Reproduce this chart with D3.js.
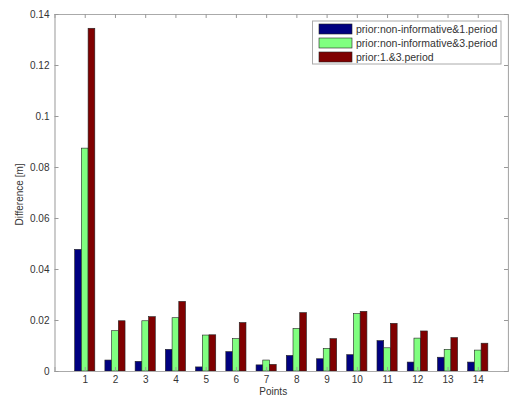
<!DOCTYPE html>
<html>
<head>
<meta charset="utf-8">
<script src="https://cdn.jsdelivr.net/npm/d3@7"></script>
<style>
  html, body { margin: 0; padding: 0; background: #fff; }
  svg { display: block; }
  text { font-family: "Liberation Sans", Arial, sans-serif; fill: #333; }
</style>
</head>
<body>
<svg id="chart" width="509" height="396"></svg>
<script>
// Point numbers along the x axis
const points = [1, 2, 3, 4, 5, 6, 7, 8, 9, 10, 11, 12, 13, 14];

// Differences [m] for each prior comparison
const nonInf1 = [0.0477, 0.0043, 0.0038, 0.0085, 0.0016, 0.0076, 0.0024, 0.0061, 0.0048, 0.0064, 0.0119, 0.0035, 0.0054, 0.0035];
const nonInf3 = [0.0874, 0.0158, 0.0197, 0.0209, 0.0141, 0.0127, 0.0043, 0.0167, 0.0089, 0.0225, 0.0091, 0.0129, 0.0085, 0.0082];
const p1and3  = [0.1344, 0.0197, 0.0213, 0.0273, 0.0142, 0.0190, 0.0026, 0.0229, 0.0127, 0.0234, 0.0187, 0.0157, 0.0131, 0.0109];

const seriesNames = ["prior:non-informative&1.period", "prior:non-informative&3.period", "prior:1.&3.period"];
const seriesColors = ["#000080", "#80ff80", "#800000"];
const series = [nonInf1, nonInf3, p1and3];

const yTicks = [0, 0.02, 0.04, 0.06, 0.08, 0.1, 0.12, 0.14];
const yTickLabels = ["0", "0.02", "0.04", "0.06", "0.08", "0.1", "0.12", "0.14"];

const svg = d3.select("#chart");
const plotL = 54.5, plotR = 508, plotT = 14, plotB = 371;

const x = d3.scaleLinear().domain([0, 15]).range([plotL, plotR]);
const y = d3.scaleLinear().domain([0, 0.14]).range([plotB, plotT]);

const step = x(1) - x(0);
const groupW = step * 3 / 4.5;
const barW = groupW / 3;

// Bars
series.forEach((vals, si) => {
  svg.append("g").selectAll("rect")
    .data(vals)
    .join("rect")
    .attr("x", (d, i) => x(points[i]) - groupW / 2 + si * barW)
    .attr("y", d => y(d))
    .attr("width", barW)
    .attr("height", d => y(0) - y(d))
    .attr("fill", seriesColors[si])
    .attr("stroke", "#222")
    .attr("stroke-width", 0.6);
});

// Axes box (ticks point inward)
const axisColor = "#aaa";
const gx = svg.append("g").attr("transform", `translate(0,${plotB})`)
  .call(d3.axisBottom(x).tickValues(points).tickSize(-4).tickPadding(5).tickFormat(d3.format("d")));
const gxTop = svg.append("g").attr("transform", `translate(0,${plotT})`)
  .call(d3.axisTop(x).tickValues(points).tickSize(-4).tickFormat(""));
const gy = svg.append("g").attr("transform", `translate(${plotL},0)`)
  .call(d3.axisLeft(y).tickValues(yTicks).tickSize(-4).tickPadding(5).tickFormat((d, i) => yTickLabels[i]));
const gyR = svg.append("g").attr("transform", `translate(${plotR},0)`)
  .call(d3.axisRight(y).tickValues(yTicks).tickSize(-4).tickFormat(""));

[gx, gxTop, gy, gyR].forEach(g => {
  g.select(".domain").attr("stroke", axisColor).attr("stroke-width", 1.2);
  g.selectAll(".tick line").attr("stroke", "#999");
  g.selectAll(".tick text").attr("fill", "#333").style("font-size", "10px")
    .style("font-family", "'Liberation Sans', Arial, sans-serif");
});

// Axis labels
svg.append("text")
  .attr("x", (plotL + plotR) / 2 - 8)
  .attr("y", 395)
  .attr("text-anchor", "middle")
  .style("font-size", "10px")
  .text("Points");

svg.append("text")
  .attr("transform", `translate(23,${(plotT + plotB) / 2 + 2}) rotate(-90)`)
  .attr("text-anchor", "middle")
  .style("font-size", "10px")
  .text("Difference [m]");

// Legend
const lg = svg.append("g");
lg.append("rect")
  .attr("x", 312.5).attr("y", 21)
  .attr("width", 188.5).attr("height", 43)
  .attr("fill", "#fff").attr("stroke", "#aaa").attr("stroke-width", 1);
seriesNames.forEach((name, i) => {
  const cy = 29 + i * 14;
  lg.append("rect")
    .attr("x", 319).attr("y", cy - 5)
    .attr("width", 33).attr("height", 10)
    .attr("fill", seriesColors[i]).attr("stroke", "#222").attr("stroke-width", 0.6);
  lg.append("text")
    .attr("x", 356).attr("y", cy + 3.8)
    .style("font-size", "10.5px")
    .text(name);
});
</script>
</body>
</html>
